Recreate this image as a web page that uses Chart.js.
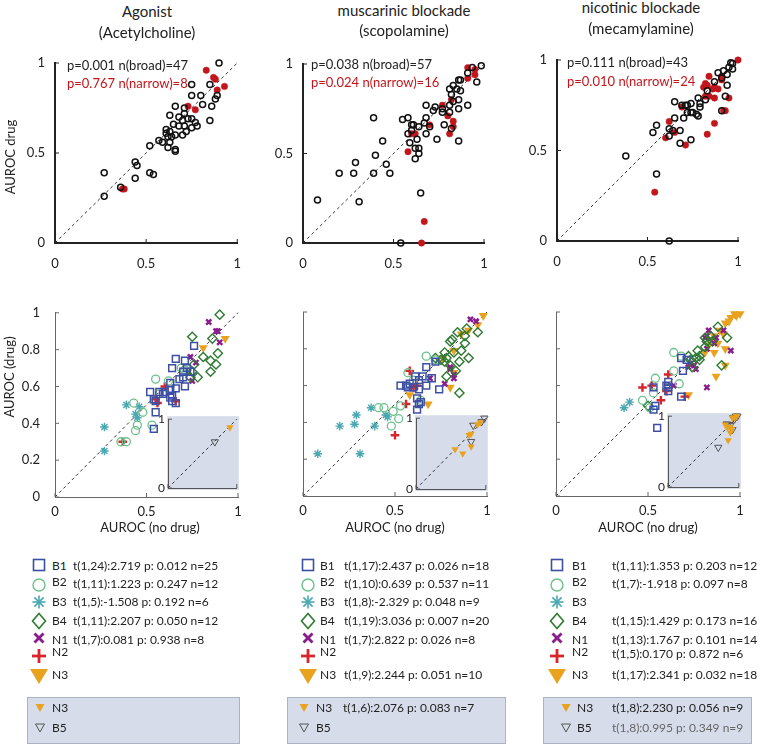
<!DOCTYPE html>
<html><head><meta charset="utf-8">
<script src="https://cdn.jsdelivr.net/npm/chart.js@4"></script>
<style>
body{margin:0;width:762px;height:744px;position:relative;background:#fff;font-family:Lato,sans-serif;color:#222;overflow:hidden}
canvas{position:absolute}
.t{position:absolute;white-space:nowrap;line-height:1}
.box{position:absolute;background:#d6dcea;border:1px solid #aab2c4;box-sizing:border-box}
svg{position:absolute;overflow:visible}
</style></head><body>
<script>
// ---------- DATA ----------
const titles = [["Agonist","(Acetylcholine)"],["muscarinic blockade","(scopolamine)"],["nicotinic blockade","(mecamylamine)"]];
const pBroad = ["p=0.001 n(broad)=47","p=0.038 n(broad)=57","p=0.111 n(broad)=43"];
const pNarrow = ["p=0.767 n(narrow)=8","p=0.024 n(narrow)=16","p=0.010 n(narrow)=24"];

// Top row: AUROC no drug (x) vs drug (y)
const acBroad = [[0.90,1.0],[0.85,0.88],[0.75,0.88],[0.80,0.82],[0.75,0.82],[0.89,0.82],[0.88,0.80],[0.81,0.77],[0.66,0.76],[0.86,0.76],[0.71,0.75],[0.71,0.72],[0.63,0.71],[0.68,0.70],[0.73,0.69],[0.75,0.69],[0.70,0.68],[0.85,0.68],[0.68,0.65],[0.71,0.65],[0.75,0.64],[0.78,0.65],[0.61,0.63],[0.63,0.62],[0.66,0.60],[0.70,0.60],[0.62,0.59],[0.64,0.59],[0.63,0.56],[0.57,0.57],[0.59,0.56],[0.62,0.53],[0.66,0.52],[0.66,0.51],[0.52,0.54],[0.44,0.45],[0.45,0.43],[0.44,0.36],[0.52,0.39],[0.54,0.38],[0.27,0.39],[0.36,0.31],[0.27,0.26],[0.65,0.66],[0.61,0.61],[0.72,0.62],[0.77,0.67]];
const acNarrow = [[0.83,0.96],[0.87,0.92],[0.88,0.91],[0.93,0.87],[0.89,0.85],[0.73,0.76],[0.77,0.74],[0.37,0.30],[0.38,0.30]];
const scBroad = [[0.985,0.99],[0.935,0.98],[0.91,0.95],[0.86,0.91],[0.87,0.91],[0.83,0.88],[0.81,0.86],[0.85,0.86],[0.96,0.90],[0.82,0.83],[0.87,0.85],[0.86,0.80],[0.83,0.79],[0.81,0.77],[0.73,0.76],[0.68,0.77],[0.77,0.75],[0.72,0.74],[0.81,0.73],[0.86,0.75],[0.91,0.77],[0.68,0.70],[0.77,0.73],[0.55,0.69],[0.58,0.70],[0.39,0.70],[0.60,0.66],[0.61,0.66],[0.67,0.67],[0.70,0.65],[0.78,0.66],[0.82,0.64],[0.58,0.61],[0.60,0.63],[0.64,0.65],[0.68,0.61],[0.63,0.58],[0.74,0.58],[0.86,0.57],[0.59,0.56],[0.44,0.57],[0.62,0.53],[0.64,0.53],[0.64,0.50],[0.62,0.47],[0.40,0.49],[0.46,0.44],[0.29,0.45],[0.28,0.39],[0.20,0.39],[0.39,0.39],[0.48,0.39],[0.08,0.24],[0.31,0.23],[0.65,0.28],[0.54,0.0]];
const scNarrow = [[0.91,0.98],[0.95,0.97],[0.95,0.94],[0.91,0.92],[0.82,0.80],[0.77,0.77],[0.80,0.71],[0.83,0.68],[0.83,0.65],[0.70,0.66],[0.81,0.61],[0.60,0.61],[0.62,0.61],[0.58,0.51],[0.67,0.12],[0.655,0.0]];
const mcBroad = [[0.96,0.985],[0.97,0.98],[0.95,0.96],[0.97,0.95],[0.92,0.94],[0.89,0.93],[0.94,0.92],[0.91,0.90],[0.87,0.88],[0.94,0.86],[0.83,0.83],[0.93,0.80],[0.78,0.79],[0.82,0.78],[0.65,0.77],[0.79,0.76],[0.69,0.75],[0.71,0.75],[0.74,0.76],[0.72,0.75],[0.79,0.74],[0.72,0.71],[0.74,0.71],[0.77,0.70],[0.78,0.69],[0.75,0.71],[0.91,0.72],[0.65,0.68],[0.70,0.68],[0.55,0.64],[0.53,0.60],[0.62,0.62],[0.64,0.61],[0.68,0.61],[0.62,0.58],[0.68,0.54],[0.74,0.56],[0.38,0.47],[0.55,0.37],[0.62,0.0]];
const mcNarrow = [[1.0,1.0],[0.84,0.91],[0.91,0.91],[0.91,0.89],[0.82,0.87],[0.83,0.86],[0.86,0.84],[0.87,0.85],[0.89,0.84],[0.82,0.80],[0.84,0.80],[0.87,0.79],[0.95,0.79],[0.69,0.74],[0.93,0.72],[0.92,0.72],[0.62,0.66],[0.65,0.60],[0.60,0.57],[0.87,0.65],[0.83,0.59],[0.71,0.53],[0.54,0.27],[0.81,0.85]];

// Bottom row: cell classes
const acB1 = [[0.76,0.82],[0.66,0.75],[0.71,0.74],[0.64,0.70],[0.72,0.70],[0.70,0.68],[0.74,0.68],[0.68,0.64],[0.70,0.65],[0.63,0.62],[0.66,0.59],[0.71,0.60],[0.52,0.57],[0.59,0.56],[0.63,0.58],[0.57,0.57],[0.54,0.53],[0.55,0.52],[0.63,0.54],[0.64,0.52],[0.66,0.51],[0.55,0.46],[0.54,0.37],[0.64,0.55],[0.60,0.57]];
const acB2 = [[0.55,0.64],[0.62,0.63],[0.69,0.70],[0.57,0.56],[0.43,0.51],[0.48,0.46],[0.45,0.39],[0.44,0.36],[0.53,0.39],[0.39,0.30],[0.36,0.30],[0.71,0.69]];
const acB3 = [[0.39,0.50],[0.46,0.49],[0.44,0.45],[0.45,0.43],[0.27,0.38],[0.27,0.25]];
const acB4 = [[0.90,0.99],[0.75,0.87],[0.86,0.86],[0.81,0.76],[0.89,0.78],[0.85,0.74],[0.76,0.72],[0.75,0.68],[0.78,0.65],[0.85,0.68],[0.88,0.72],[0.74,0.65]];
const acN1 = [[0.84,0.95],[0.88,0.90],[0.89,0.90],[0.90,0.84],[0.74,0.76],[0.77,0.73],[0.75,0.63],[0.73,0.68]];
const acN2 = [[0.60,0.60],[0.55,0.53],[0.56,0.51],[0.66,0.52],[0.37,0.30]];
const acN3 = [[0.81,0.81],[0.93,0.86]];
const acInsetN3 = [[0.90,0.88]];
const acInsetB5 = [[0.68,0.67]];

const scB1 = [[0.72,0.73],[0.67,0.70],[0.65,0.65],[0.61,0.65],[0.70,0.64],[0.63,0.63],[0.67,0.60],[0.53,0.60],[0.56,0.60],[0.58,0.61],[0.63,0.58],[0.74,0.58],[0.62,0.53],[0.64,0.51],[0.63,0.50],[0.62,0.47],[0.57,0.59],[0.60,0.59]];
const scB2 = [[0.67,0.76],[0.57,0.67],[0.41,0.48],[0.44,0.48],[0.53,0.49],[0.49,0.46],[0.52,0.42],[0.48,0.38],[0.64,0.52],[0.72,0.74],[0.60,0.63]];
const scB3 = [[0.37,0.48],[0.46,0.43],[0.29,0.44],[0.28,0.39],[0.20,0.38],[0.39,0.38],[0.08,0.23],[0.31,0.23],[0.45,0.44]];
const scB4 = [[0.84,0.89],[0.81,0.85],[0.80,0.84],[0.88,0.83],[0.89,0.91],[0.95,0.89],[0.72,0.75],[0.77,0.73],[0.85,0.73],[0.90,0.75],[0.86,0.79],[0.82,0.78],[0.78,0.65],[0.85,0.56],[0.78,0.75],[0.80,0.71],[0.75,0.74],[0.83,0.68],[0.88,0.87],[0.77,0.78]];
const scN1 = [[0.91,0.96],[0.94,0.95],[0.80,0.70],[0.82,0.66],[0.82,0.64],[0.77,0.61],[0.69,0.64],[0.80,0.69]];
const scN2 = [[0.58,0.68],[0.62,0.60],[0.60,0.59],[0.56,0.50],[0.50,0.33]];
const scN3 = [[0.98,0.98],[0.95,0.93],[0.90,0.90],[0.86,0.88],[0.76,0.75],[0.82,0.79],[0.82,0.67],[0.80,0.59],[0.58,0.55],[0.68,0.50]];
const scInsetN3 = [[0.92,0.94],[0.88,0.91],[0.79,0.78],[0.76,0.76],[0.56,0.56],[0.67,0.50],[0.79,0.60]];
const scInsetB5 = [[0.98,1.0],[0.82,0.90],[0.79,0.67],[0.94,0.95]];

const mcB1 = [[0.68,0.75],[0.71,0.74],[0.69,0.68],[0.61,0.62],[0.61,0.59],[0.53,0.59],[0.68,0.54],[0.54,0.49],[0.53,0.47],[0.55,0.37],[0.60,0.60],[0.61,0.57]];
const mcB2 = [[0.64,0.78],[0.64,0.68],[0.54,0.64],[0.67,0.61],[0.53,0.56],[0.47,0.52],[0.51,0.48],[0.68,0.76]];
const mcB3 = [[0.40,0.51],[0.37,0.48]];
const mcB4 = [[0.88,0.92],[0.81,0.86],[0.82,0.84],[0.84,0.87],[0.93,0.86],[0.72,0.76],[0.77,0.79],[0.78,0.76],[0.78,0.74],[0.81,0.81],[0.73,0.74],[0.90,0.71],[0.74,0.70],[0.50,0.49],[0.85,0.84],[0.76,0.75]];
const mcN1 = [[0.83,0.90],[0.91,0.90],[0.95,0.79],[0.82,0.80],[0.86,0.83],[0.73,0.72],[0.76,0.69],[0.64,0.60],[0.82,0.59],[0.75,0.71],[0.82,0.87],[0.87,0.86],[0.72,0.70],[0.81,0.86]];
const mcN2 = [[0.61,0.66],[0.52,0.60],[0.47,0.59],[0.60,0.57],[0.57,0.52],[0.70,0.54]];
const mcN3 = [[1.0,0.99],[0.95,0.97],[0.92,0.94],[0.89,0.90],[0.86,0.87],[0.88,0.83],[0.83,0.82],[0.86,0.78],[0.92,0.80],[0.92,0.71],[0.87,0.65],[0.72,0.55],[0.94,0.95],[0.98,0.98],[0.84,0.85],[0.81,0.78],[0.91,0.88],[0.97,0.99]];
const mcInsetN3 = [[0.97,1.0],[0.91,0.98],[0.81,0.88],[0.87,0.85],[0.88,0.77],[0.85,0.66],[0.94,0.98],[0.84,0.84],[0.90,0.82]];
const mcInsetB5 = [[0.96,1.0],[0.92,0.98],[0.85,0.88],[0.91,0.81],[0.71,0.56],[0.98,1.0],[0.83,0.89],[0.88,0.87],[0.94,0.96]];

const groupNames = ["B1","B2","B3","B4","N1","N2","N3"];
const statsAc = ["t(1,24):2.719 p: 0.012 n=25","t(1,11):1.223 p: 0.247 n=12","t(1,5):-1.508 p: 0.192 n=6","t(1,11):2.207 p: 0.050 n=12","t(1,7):0.081 p: 0.938 n=8","",""];
const statsSc = ["t(1,17):2.437 p: 0.026 n=18","t(1,10):0.639 p: 0.537 n=11","t(1,8):-2.329 p: 0.048 n=9","t(1,19):3.036 p: 0.007 n=20","t(1,7):2.822 p: 0.026 n=8","","t(1,9):2.244 p: 0.051 n=10"];
const statsMc = ["t(1,11):1.353 p: 0.203 n=12","t(1,7):-1.918 p: 0.097 n=8","","t(1,15):1.429 p: 0.173 n=16","t(1,13):1.767 p: 0.101 n=14","t(1,5):0.170 p: 0.872 n=6","t(1,17):2.341 p: 0.032 n=18"];
const insetNames = ["N3","B5"];
const insetStatsAc = ["",""];
const insetStatsSc = ["t(1,6):2.076 p: 0.083 n=7",""];
const insetStatsMc = ["t(1,8):2.230 p: 0.056 n=9","t(1,8):0.995 p: 0.349 n=9"];

// ---------- STYLE ----------
const RED = '#c3161c';
const COL = {B1:'#3d4fa3',B2:'#6cc08c',B3:'#4aa8b2',B4:'#2f7a33',N1:'#8a1c8c',N2:'#d6262b',N3:'#e9a21e',B5:'#555555'};
const INSET_BG = '#d6dcea';
Chart.defaults.font.family = 'Lato';
const fmtTick = v => String(Math.round(v * 10) / 10);

function txt(s, x, y, opt={}) {
  const d = document.createElement('div');
  d.className = 't';
  d.textContent = s;
  d.style.left = x + 'px'; d.style.top = y + 'px';
  d.style.fontSize = (opt.size || 12) + 'px';
  if (opt.color) d.style.color = opt.color;
  let tr = opt.align === 'center' ? 'translate(-50%,-50%)' : 'translate(0,-50%)';
  if (opt.rot) tr += ' rotate(-90deg)';
  d.style.transform = tr;
  document.body.appendChild(d);
}

const tickPlugin = {
  id: 'inward',
  beforeDraw(ch, args, o) {
    if (o.bg) {
      const a = ch.chartArea, c = ch.ctx;
      c.save(); c.fillStyle = o.bg;
      c.fillRect(a.left - 1, a.top - 3, a.right - a.left + 3, a.bottom - a.top + 5);
      c.restore();
    }
  },
  afterDatasetsDraw(ch, args, o) {
    const a = ch.chartArea, c = ch.ctx;
    c.save(); c.strokeStyle = o.color || '#222'; c.lineWidth = 1;
    ch.scales.x.ticks.forEach(t => { const px = ch.scales.x.getPixelForValue(t.value); c.beginPath(); c.moveTo(px, a.bottom); c.lineTo(px, a.bottom - 4); c.stroke(); });
    ch.scales.y.ticks.forEach(t => { const py = ch.scales.y.getPixelForValue(t.value); c.beginPath(); c.moveTo(a.left, py); c.lineTo(a.left + 4, py); c.stroke(); });
    c.restore();
  }
};

function diag(color) {
  return {type:'line', data:[{x:0,y:0},{x:1,y:1}], borderColor:color||'#222', borderWidth:1, borderDash:[3,3], pointRadius:0, clip:false, order:10};
}
function pts(arr) { return arr.map(p => ({x:p[0], y:p[1]})); }

function makeChart(c) {
  const cv = document.createElement('canvas');
  cv.width = c.w; cv.height = c.h;
  cv.style.left = c.x + 'px'; cv.style.top = c.y + 'px';
  cv.style.width = c.w + 'px'; cv.style.height = c.h + 'px';
  document.body.appendChild(cv);
  const A = c.area;
  const tickFont = {family:'Lato', size:c.fontSize || 13};
  new Chart(cv, {
    type: 'scatter',
    data: {datasets: c.datasets},
    options: {
      responsive:false, animation:false, devicePixelRatio:1,
      layout:{padding:{left:0, top:A.t - c.y, right:c.x + c.w - A.r, bottom:0}},
      plugins:{legend:{display:false}, tooltip:{enabled:false}, inward:{bg:c.bg, color:c.axisColor}},
      scales:{
        x:{type:'linear', min:0, max:1, ticks:{stepSize:c.xStep, display:c.xLabels, padding:c.xPad, font:tickFont, color:'#222', maxRotation:0, autoSkip:false, callback:fmtTick},
           grid:{display:false, drawTicks:false}, border:{display:true, color:c.axisColor, width:c.axisWidth},
           afterFit(s){ s.height = c.y + c.h - A.b; }},
        y:{type:'linear', min:0, max:1, ticks:{stepSize:c.yStep, display:c.yLabels, padding:c.yPad, font:tickFont, color:'#222', autoSkip:false, callback:fmtTick},
           grid:{display:false, drawTicks:false}, border:{display:true, color:c.axisColor, width:c.axisWidth},
           afterFit(s){ s.width = A.l - c.x; }}
      }
    },
    plugins:[tickPlugin]
  });
}

// ---------- TOP ROW ----------
const topAreas = [{l:55,r:238,t:63,b:243},{l:303,r:484,t:64,b:243},{l:557,r:738,t:60,b:241}];
const topData = [[acBroad,acNarrow],[scBroad,scNarrow],[mcBroad,mcNarrow]];
const topX = [0, 254, 508];
topAreas.forEach((A, i) => {
  makeChart({x:topX[i], y:40, w:254, h:240, area:A, axisColor:'#222', axisWidth:2, xStep:0.5, yStep:0.5, xLabels:true, yLabels:true, xPad:13, yPad:10, fontSize:13,
    datasets:[
      diag('#333'),
      {data:pts(topData[i][0]), pointStyle:'circle', pointRadius:3, pointBorderWidth:1.5, pointBorderColor:'#111', pointBackgroundColor:'rgba(0,0,0,0)', clip:false},
      {data:pts(topData[i][1]), pointStyle:'circle', pointRadius:3.2, pointBorderWidth:0.5, pointBorderColor:RED, pointBackgroundColor:RED, clip:false}
    ]});
});

// ---------- BOTTOM ROW ----------
function groupDatasets(g) {
  const s = (data, style, col, r, bw, extra={}) => Object.assign({data:pts(data), pointStyle:style, pointRadius:r, pointBorderWidth:bw, pointBorderColor:col, pointBackgroundColor:'rgba(0,0,0,0)', clip:false}, extra);
  return [
    diag('#333'),
    s(g[0], 'rect', COL.B1, 4.8, 1.5),
    s(g[1], 'circle', COL.B2, 4, 1.3),
    s(g[2], 'star', COL.B3, 4.3, 1.4),
    s(g[3], 'rectRot', COL.B4, 4.6, 1.4),
    s(g[4], 'crossRot', COL.N1, 3.6, 2.4),
    s(g[5], 'cross', COL.N2, 4.3, 2.4),
    s(g[6], 'triangle', COL.N3, 5.2, 0, {pointBackgroundColor:COL.N3, pointRotation:180})
  ];
}
const botAreas = [{l:55,r:238,t:312,b:497},{l:303,r:487,t:312,b:496},{l:556,r:740,t:312,b:496}];
const botData = [[acB1,acB2,acB3,acB4,acN1,acN2,acN3],[scB1,scB2,scB3,scB4,scN1,scN2,scN3],[mcB1,mcB2,mcB3,mcB4,mcN1,mcN2,mcN3]];
const insetAreas = [{l:168,r:238,t:419,b:488},{l:416,r:487,t:418,b:489},{l:668,r:740,t:416,b:487}];
const insetData = [[acInsetN3,acInsetB5],[scInsetN3,scInsetB5],[mcInsetN3,mcInsetB5]];
botAreas.forEach((A, i) => {
  makeChart({x:topX[i], y:290, w:254, h:240, area:A, axisColor:'#666', axisWidth:1, xStep:0.5, yStep:0.2, xLabels:true, yLabels:i===0, xPad:7, yPad:15, fontSize:13,
    datasets: groupDatasets(botData[i])});
  const I = insetAreas[i];
  makeChart({x:I.l - 22, y:I.t - 10, w:(I.r - I.l) + 26, h:(I.b - I.t) + 22, area:I, axisColor:'#555', axisWidth:1, xStep:1, yStep:1, xLabels:false, yLabels:true, xPad:0, yPad:3, fontSize:12, bg:INSET_BG,
    datasets:[
      diag('#333'),
      {data:pts(insetData[i][0]), pointStyle:'triangle', pointRotation:180, pointRadius:4.2, pointBorderWidth:0, pointBackgroundColor:COL.N3, clip:false},
      {data:pts(insetData[i][1]), pointStyle:'triangle', pointRotation:180, pointRadius:4.2, pointBorderWidth:1, pointBorderColor:COL.B5, pointBackgroundColor:'rgba(0,0,0,0)', clip:false}
    ]});
});

// ---------- TEXT ----------
const titleX = [147, 404, 641], titleY = [[11,32],[10,30],[7,28]];
titles.forEach((t, i) => { txt(t[0], titleX[i], titleY[i][0], {size:15, align:'center'}); txt(t[1], titleX[i], titleY[i][1], {size:15, align:'center'}); });
const pX = [67, 311, 567], pY = [[65,83],[64,82],[62,81]];
pBroad.forEach((s, i) => { txt(s, pX[i], pY[i][0], {size:13}); txt(pNarrow[i], pX[i], pY[i][1], {size:13, color:RED}); });
txt('AUROC drug', 10, 157, {size:13, align:'center', rot:true});
txt('AUROC (drug)', 9, 377, {size:13, align:'center', rot:true});
[150, 395, 648].forEach(x => txt('AUROC (no drug)', x, 527, {size:13, align:'center'}));

// ---------- LEGENDS ----------
function marker(kind, cx, cy) {
  const ns = 'http://www.w3.org/2000/svg';
  const s = document.createElementNS(ns, 'svg');
  s.setAttribute('width', 24); s.setAttribute('height', 24);
  s.style.left = (cx - 12) + 'px'; s.style.top = (cy - 12) + 'px';
  const shapes = {
    B1:`<rect x="6.5" y="6.5" width="11" height="11" fill="none" stroke="${COL.B1}" stroke-width="1.6"/>`,
    B2:`<circle cx="12" cy="12" r="6" fill="none" stroke="${COL.B2}" stroke-width="1.4"/>`,
    B3:`<g stroke="${COL.B3}" stroke-width="1.6"><line x1="12" y1="5.5" x2="12" y2="18.5"/><line x1="5.5" y1="12" x2="18.5" y2="12"/><line x1="7.4" y1="7.4" x2="16.6" y2="16.6"/><line x1="7.4" y1="16.6" x2="16.6" y2="7.4"/></g>`,
    B4:`<polygon points="12,4.5 18.5,12 12,19.5 5.5,12" fill="none" stroke="${COL.B4}" stroke-width="1.6"/>`,
    N1:`<g stroke="${COL.N1}" stroke-width="2.8"><line x1="7.5" y1="7.5" x2="16.5" y2="16.5"/><line x1="7.5" y1="16.5" x2="16.5" y2="7.5"/></g>`,
    N2:`<g stroke="${COL.N2}" stroke-width="2.8"><line x1="12" y1="5" x2="12" y2="19"/><line x1="5" y1="12" x2="19" y2="12"/></g>`,
    N3:`<polygon points="3,5 21,5 12,20" fill="${COL.N3}"/>`,
    sN3:`<polygon points="7.5,8 16.5,8 12,16" fill="${COL.N3}"/>`,
    sB5:`<polygon points="7.5,8 16.5,8 12,16" fill="none" stroke="#555" stroke-width="1"/>`
  };
  s.innerHTML = shapes[kind];
  document.body.appendChild(s);
}
const legCols = [{mx:39,lx:52,tx:73,stats:statsAc},{mx:308,lx:320,tx:344,stats:statsSc},{mx:557,lx:572,tx:612,stats:statsMc}];
const rowY = [566, 584, 602, 621, 640, 654, 675];
const markY = [565, 585, 602, 621, 638, 656, 676];
legCols.forEach(c => {
  groupNames.forEach((g, j) => {
    marker(g, c.mx, markY[j]);
    txt(g, c.lx, rowY[j] - (g === 'B2' || g === 'N2' ? 2 : 0), {size:12});
    if (c.stats[j]) txt(c.stats[j], c.tx, rowY[j], {size:12});
  });
});
const boxes = [{l:27,r:240},{l:287,r:506},{l:543,r:752}];
const boxCols = [{mx:40,lx:52,tx:73,stats:insetStatsAc},{mx:304,lx:316,tx:343,stats:insetStatsSc},{mx:566,lx:577,tx:612,stats:insetStatsMc}];
boxes.forEach((b, i) => {
  const d = document.createElement('div'); d.className = 'box';
  d.style.left = b.l + 'px'; d.style.top = '697px'; d.style.width = (b.r - b.l) + 'px'; d.style.height = '47px';
  document.body.appendChild(d);
  const c = boxCols[i];
  marker('sN3', c.mx, 708); marker('sB5', c.mx, 728);
  txt(insetNames[0], c.lx, 708, {size:12}); txt(insetNames[1], c.lx, 728, {size:12});
  if (c.stats[0]) txt(c.stats[0], c.tx, 708, {size:12});
  if (c.stats[1]) txt(c.stats[1], c.tx, 728, {size:12, color:'#666'});
});
</script>
</body></html>
